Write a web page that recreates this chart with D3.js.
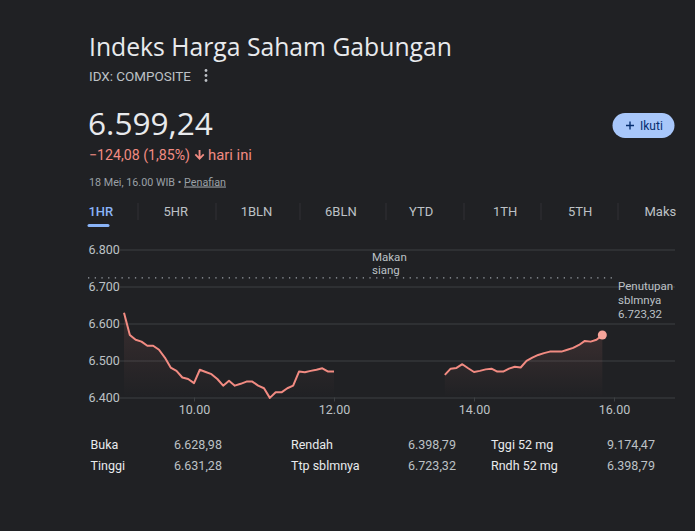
<!DOCTYPE html>
<html><head><meta charset="utf-8">
<script src="https://cdn.jsdelivr.net/npm/d3@7"></script>
<style>
html,body{margin:0;padding:0;background:#202124;}
svg{display:block;font-family:Roboto,"Noto Sans",sans-serif;}
</style></head>
<body>
<script>
// ---- data ----
const morningTimes = ["09:00","09:05","09:10","09:15","09:20","09:25","09:30","09:35","09:40","09:45","09:50","09:55",
  "10:00","10:05","10:10","10:15","10:20","10:25","10:30","10:35","10:40","10:45","10:50","10:55",
  "11:00","11:05","11:10","11:15","11:20","11:25","11:30","11:35","11:40","11:45","11:50","11:55","12:00"];
const morningValues = [6629,6569,6556,6551,6540,6540,6529,6508,6481,6472,6454,6450,
  6439,6475,6469,6463,6450,6432,6445,6432,6437,6443,6443,6432,
  6425,6399,6414,6414,6425,6432,6470,6468,6472,6475,6479,6470,6470];
const afternoonTimes = ["13:35","13:40","13:45","13:50","13:55","14:00","14:05","14:10","14:15","14:20","14:25","14:30",
  "14:35","14:40","14:45","14:50","14:55","15:00","15:05","15:10","15:15","15:20","15:25","15:30","15:35","15:40","15:45","15:50"];
const afternoonValues = [6461,6478,6480,6490,6479,6469,6472,6476,6478,6470,6470,6478,
  6483,6481,6499,6508,6515,6520,6524,6524,6524,6529,6534,6542,6553,6551,6556,6569];
const prevClose = 6723.32;
const yTickValues = [6400,6500,6600,6700,6800];
const yTickLabels = ["6.400","6.500","6.600","6.700","6.800"];
const xTickTimes = ["10:00","12:00","14:00","16:00"];
const xTickLabels = ["10.00","12.00","14.00","16.00"];
const tabs = ["1HR","5HR","1BLN","6BLN","YTD","1TH","5TH","Maks"];
const statLabels = [["Buka","Tinggi"],["Rendah","Ttp sblmnya"],["Tggi 52 mg","Rndh 52 mg"]];
const statValues = [["6.628,98","6.631,28"],["6.398,79","6.723,32"],["9.174,47","6.398,79"]];

const W = 695, H = 531;
const svg = d3.select("body").append("svg").attr("width", W).attr("height", H);
svg.append("rect").attr("width", W).attr("height", H).attr("fill", "#202124");

function fit(sel, w){
  const l = sel.node().getComputedTextLength();
  const fs = parseFloat(sel.attr("font-size"));
  if (l > 0) sel.attr("font-size", (fs * w / l).toFixed(2));
  return sel;
}

// ---- header ----
fit(svg.append("text").attr("x", 89).attr("y", 56).attr("font-size", 24)
  .attr("font-family", "'Open Sans',Roboto,sans-serif")
  .attr("fill", "#e8eaed").text("Indeks Harga Saham Gabungan"), 363);

fit(svg.append("text").attr("x", 89).attr("y", 81).attr("font-size", 13)
  .attr("fill", "#bdc1c6").text("IDX: COMPOSITE"), 102);
[70.5, 75.5, 80.5].forEach(cy => svg.append("circle").attr("cx", 206).attr("cy", cy).attr("r", 1.4).attr("fill", "#bdc1c6"));

fit(svg.append("text").attr("x", 88).attr("y", 135).attr("font-size", 30)
  .attr("font-family", "'Open Sans',Roboto,sans-serif")
  .attr("fill", "#e8eaed").text("6.599,24"), 125);

fit(svg.append("text").attr("x", 89).attr("y", 160).attr("font-size", 14)
  .attr("fill", "#f28b82").text("\u2212124,08 (1,85%)"), 101);
svg.append("path").attr("d", "M198.6,150 h1.9 v6.4 l2.6,-2.6 1.3,1.3 -4.85,4.85 -4.85,-4.85 1.3,-1.3 2.6,2.6 z")
  .attr("fill", "#f28b82");
fit(svg.append("text").attr("x", 208).attr("y", 160).attr("font-size", 14)
  .attr("fill", "#f28b82").text("hari ini"), 44);

const dateT = svg.append("text").attr("x", 89).attr("y", 185.5).attr("font-size", 11).attr("fill", "#9aa0a6");
dateT.append("tspan").text("18 Mei, 16.00 WIB \u2022 ");
dateT.append("tspan").attr("text-decoration", "underline").text("Penafian");
fit(dateT, 137);

// follow button
svg.append("rect").attr("x", 612.5).attr("y", 113).attr("width", 62).attr("height", 25).attr("rx", 12.5)
  .attr("fill", "#a8c7fa");
svg.append("path").attr("d", "M630,121.5 v8 M626,125.5 h8").attr("stroke", "#062e6f").attr("stroke-width", 1.4);
svg.append("text").attr("x", 640).attr("y", 129.5).attr("font-size", 12).attr("fill", "#062e6f").text("Ikuti");

// tabs
const tabX = [88.4,163.4,240.7,325,409,493,568,644.5];
const sepX = [138,216,300,386,464,541,618];
tabs.forEach((t, i) => {
  svg.append("text").attr("x", tabX[i]).attr("y", 216).attr("font-size", 13)
    .attr("fill", i === 0 ? "#8ab4f8" : "#bdc1c6").attr("font-weight", i === 0 ? 500 : 400).text(t);
});
sepX.forEach(x => svg.append("line").attr("x1", x).attr("x2", x).attr("y1", 203).attr("y2", 220)
  .attr("stroke", "#303134").attr("stroke-width", 1));
svg.append("rect").attr("x", 87.5).attr("y", 224).attr("width", 22).attr("height", 3).attr("rx", 1.5).attr("fill", "#8ab4f8");

// ---- chart ----
const parse = d3.timeParse("%H:%M");
const x = d3.scaleTime().domain([parse("09:00"), parse("17:00")]).range([124, 124 + 8 * 70]);
const y = d3.scaleLinear().domain([6400, 6800]).range([397.5, 249.5]);

const yAxis = d3.axisLeft(y).tickValues(yTickValues).tickFormat((d, i) => yTickLabels[i])
  .tickSize(-555).tickPadding(0);
const gy = svg.append("g").attr("transform", "translate(120,0)").call(yAxis);
gy.select(".domain").remove();
gy.selectAll(".tick line").attr("stroke", "#3c4043").attr("stroke-width", 1);
gy.selectAll(".tick text").attr("x", -31.5).attr("text-anchor", "start").attr("fill", "#bdc1c6")
  .attr("font-size", 12.5).attr("font-family", "Roboto,sans-serif");

const xAxis = d3.axisBottom(x).tickValues(xTickTimes.map(parse)).tickFormat((d, i) => xTickLabels[i])
  .tickSize(4).tickPadding(4);
const gx = svg.append("g").attr("transform", "translate(0,397.5)").call(xAxis);
gx.select(".domain").remove();
gx.selectAll(".tick line").attr("stroke", "#3c4043");
gx.selectAll(".tick text").attr("fill", "#bdc1c6").attr("font-size", 12.5).attr("font-family", "Roboto,sans-serif");

// previous close
svg.append("line").attr("x1", 88).attr("x2", 617).attr("y1", y(prevClose)).attr("y2", y(prevClose))
  .attr("stroke", "#9aa0a6").attr("stroke-width", 1.3).attr("stroke-dasharray", "1.3,5.4");

// gradient
const defs = svg.append("defs");
const grad = defs.append("linearGradient").attr("id", "ag").attr("x1", 0).attr("x2", 0).attr("y1", 0).attr("y2", 1);
grad.append("stop").attr("offset", "0%").attr("stop-color", "#f28b82").attr("stop-opacity", 0.12);
grad.append("stop").attr("offset", "100%").attr("stop-color", "#f28b82").attr("stop-opacity", 0);

const segments = [
  morningTimes.map((t, i) => ({t: parse(t), v: morningValues[i]})),
  afternoonTimes.map((t, i) => ({t: parse(t), v: afternoonValues[i]}))
];
const area = d3.area().x(d => x(d.t)).y0(y(6400)).y1(d => y(d.v));
const line = d3.line().x(d => x(d.t)).y(d => y(d.v));
segments.forEach(seg => {
  svg.append("path").datum(seg).attr("d", area).attr("fill", "url(#ag)");
  svg.append("path").datum(seg).attr("d", line).attr("fill", "none")
    .attr("stroke", "#f28b82").attr("stroke-width", 2).attr("stroke-linejoin", "round");
});
const last = segments[1][segments[1].length - 1];
svg.append("circle").attr("cx", x(last.t)).attr("cy", y(last.v)).attr("r", 4.5).attr("fill", "#f6a49a");

// annotations
const ann = svg.append("text").attr("font-size", 11.5).attr("fill", "#bdc1c6");
ann.append("tspan").attr("x", 372).attr("y", 261).text("Makan");
ann.append("tspan").attr("x", 372).attr("y", 274).text("siang");
const pc = svg.append("text").attr("font-size", 11.5).attr("fill", "#bdc1c6");
pc.append("tspan").attr("x", 618).attr("y", 290).text("Penutupan");
pc.append("tspan").attr("x", 618).attr("y", 304).text("sblmnya");
pc.append("tspan").attr("x", 618).attr("y", 318).text("6.723,32");

// ---- stats ----
const labX = [90.5, 291, 491];
const valX = [174, 408, 607];
const rowY = [448.5, 469.5];
statLabels.forEach((col, c) => col.forEach((lab, r) => {
  svg.append("text").attr("x", labX[c]).attr("y", rowY[r]).attr("font-size", 12.5).attr("fill", "#e8eaed").text(lab);
  svg.append("text").attr("x", valX[c]).attr("y", rowY[r]).attr("font-size", 12.5).attr("fill", "#bdc1c6").text(statValues[c][r]);
}));
</script>
</body></html>
